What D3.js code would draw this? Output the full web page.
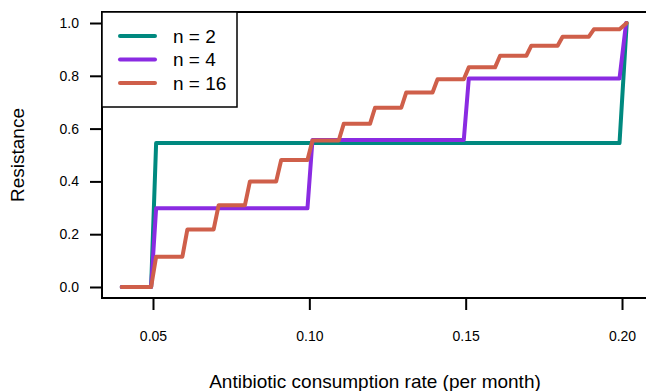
<!DOCTYPE html>
<html>
<head>
<meta charset="utf-8">
<script src="https://cdn.jsdelivr.net/npm/d3@7"></script>
<style>
  html, body { margin: 0; padding: 0; background: #fff; }
  svg { display: block; font-family: "Liberation Sans", Arial, Helvetica, sans-serif; }
</style>
</head>
<body>
<svg id="chart" width="646" height="391"></svg>
<script>
// ---- data ----
const seriesNames = ["n = 2", "n = 4", "n = 16"];
const seriesColors = ["#00897f", "#8a2be2", "#cf5f4a"];

const n2X = [0.040, 0.0494, 0.0510, 0.1992, 0.2015];
const n2Y = [0, 0, 0.545, 0.545, 1.0];

const n4X = [0.040, 0.0494, 0.0510, 0.0994, 0.1010, 0.1494, 0.1510, 0.1992, 0.2013];
const n4Y = [0, 0, 0.298, 0.298, 0.557, 0.557, 0.790, 0.790, 1.0];

const n16X = [0.040, 0.0494, 0.0510, 0.0594, 0.0610, 0.0694, 0.0710, 0.0794, 0.0810,
              0.0894, 0.0910, 0.0994, 0.1010, 0.1094, 0.1110, 0.1194, 0.1210, 0.1294,
              0.1310, 0.1394, 0.1410, 0.1494, 0.1510, 0.1594, 0.1610, 0.1694, 0.1710,
              0.1794, 0.1810, 0.1894, 0.1910, 0.1992, 0.2015];
const n16Y = [0, 0, 0.115, 0.115, 0.218, 0.218, 0.310, 0.310, 0.400,
              0.400, 0.481, 0.481, 0.555, 0.555, 0.618, 0.618, 0.679, 0.679,
              0.737, 0.737, 0.787, 0.787, 0.832, 0.832, 0.876, 0.876, 0.914,
              0.914, 0.948, 0.948, 0.976, 0.976, 1.0];

const xTicks = [0.05, 0.10, 0.15, 0.20];
const yTicks = [0.0, 0.2, 0.4, 0.6, 0.8, 1.0];
const xTitle = "Antibiotic consumption rate (per month)";
const yTitle = "Resistance";

// ---- layout ----
const svg = d3.select("#chart");
const pL = 102, pR = 648, pT = 12, pB = 298;

const x = d3.scaleLinear().domain([0.03369, 0.20831]).range([pL, pR]);
const y = d3.scaleLinear().domain([-0.0417, 1.0417]).range([pB, pT]);

// plot box
svg.append("rect")
  .attr("x", pL).attr("y", pT)
  .attr("width", pR - pL).attr("height", pB - pT)
  .attr("fill", "none").attr("stroke", "#000").attr("stroke-width", 2);

// series
const seriesData = [
  n2X.map((v, i) => [v, n2Y[i]]),
  n4X.map((v, i) => [v, n4Y[i]]),
  n16X.map((v, i) => [v, n16Y[i]])
];
const line = d3.line().x(d => x(d[0])).y(d => y(d[1]));
seriesData.forEach((d, i) => {
  svg.append("path")
    .datum(d)
    .attr("d", line)
    .attr("fill", "none")
    .attr("stroke", seriesColors[i])
    .attr("stroke-width", 4)
    .attr("stroke-linejoin", "round")
    .attr("stroke-linecap", "round");
});

// x axis (below box)
const xAxis = d3.axisBottom(x).tickValues(xTicks).tickFormat(d3.format(".2f"))
  .tickSize(12).tickPadding(21);
const gx = svg.append("g").attr("transform", `translate(0,${pB})`).call(xAxis);
gx.select(".domain").remove();
gx.selectAll(".tick line").attr("stroke", "#000").attr("stroke-width", 2);
gx.selectAll(".tick text").attr("font-size", 14).attr("fill", "#000")
  .attr("font-family", "'Liberation Sans', Arial, Helvetica, sans-serif");

// y axis
const yAxis = d3.axisLeft(y).tickValues(yTicks).tickFormat(d3.format(".1f"))
  .tickSize(12).tickPadding(11);
const gy = svg.append("g").attr("transform", `translate(${pL},0)`).call(yAxis);
gy.select(".domain").remove();
gy.selectAll(".tick line").attr("stroke", "#000").attr("stroke-width", 2);
gy.selectAll(".tick text").attr("font-size", 14).attr("fill", "#000")
  .attr("font-family", "'Liberation Sans', Arial, Helvetica, sans-serif");

// axis titles
svg.append("text")
  .attr("x", (pL + pR) / 2).attr("y", 388)
  .attr("text-anchor", "middle").attr("font-size", 19).attr("fill", "#000")
  .text(xTitle);
svg.append("text")
  .attr("transform", `translate(24,${(pT + pB) / 2}) rotate(-90)`)
  .attr("text-anchor", "middle").attr("font-size", 19).attr("fill", "#000")
  .text(yTitle);

// legend
const lg = svg.append("g");
lg.append("rect")
  .attr("x", pL).attr("y", pT)
  .attr("width", 135).attr("height", 95)
  .attr("fill", "#fff").attr("stroke", "#000").attr("stroke-width", 1.5);
seriesNames.forEach((name, i) => {
  const ly = 36 + i * 23.5;
  lg.append("line")
    .attr("x1", 120).attr("x2", 155).attr("y1", ly).attr("y2", ly)
    .attr("stroke", seriesColors[i]).attr("stroke-width", 4)
    .attr("stroke-linecap", "round");
  lg.append("text")
    .attr("x", 173).attr("y", ly).attr("dy", "0.36em")
    .attr("font-size", 19).attr("fill", "#000")
    .text(name);
});
</script>
</body>
</html>
